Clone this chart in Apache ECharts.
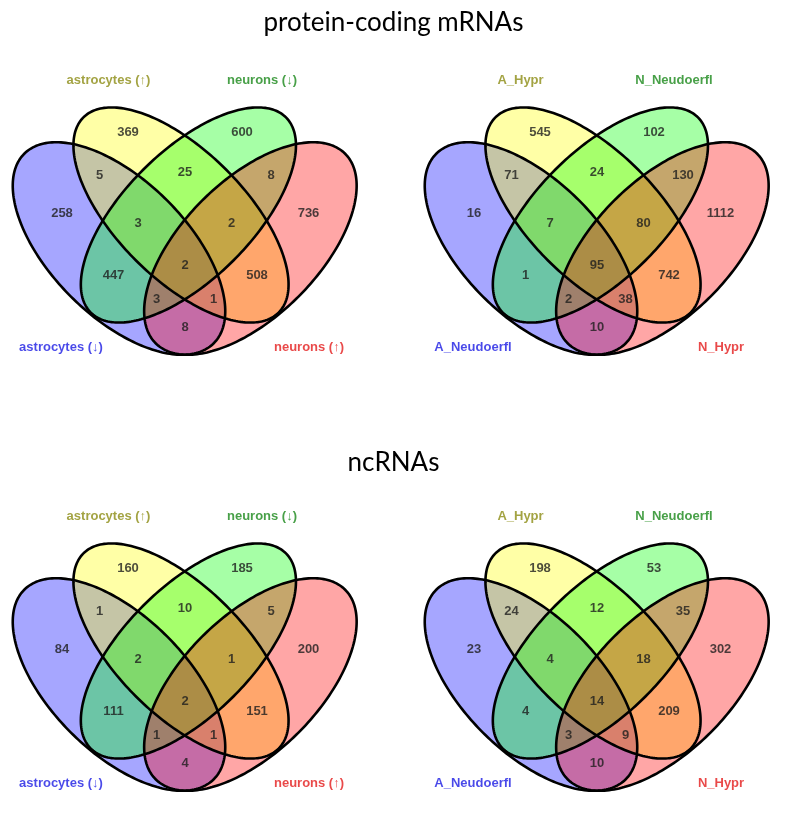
<!DOCTYPE html>
<html><head><meta charset="utf-8">
<script src="https://cdn.jsdelivr.net/npm/echarts@6/dist/echarts.min.js"></script>
<style>html,body{margin:0;padding:0;background:#fff}#c{width:787px;height:814px}</style>
</head><body><div id="c"></div>
<script>
// ---------- data ----------
const sectionTitles = ['protein-coding mRNAs', 'ncRNAs'];
// region keys: B = set 1 (left), Y = set 2, G = set 3, R = set 4 (right)
const regionKeys = ['Y','G','BY','YG','GR','B','BYG','YGR','R','BYGR','BG','YR','BGR','BYR','BR'];
const setNamesCondition = ['astrocytes (↓)', 'astrocytes (↑)', 'neurons (↓)', 'neurons (↑)'];
const setNamesSample = ['A_Neudoerfl', 'A_Hypr', 'N_Neudoerfl', 'N_Hypr'];
const mrnaCondition = [369, 600, 5, 25, 8, 258, 3, 2, 736, 2, 447, 508, 3, 1, 8];
const mrnaSample    = [545, 102, 71, 24, 130, 16, 7, 80, 1112, 95, 1, 742, 2, 38, 10];
const ncrnaCondition = [160, 185, 1, 10, 5, 84, 2, 1, 200, 2, 111, 151, 1, 1, 4];
const ncrnaSample    = [198, 53, 24, 12, 35, 23, 4, 18, 302, 14, 4, 209, 3, 9, 10];

// ---------- layout / style ----------
const PANELS = [
  {left: 0,   top: 0,   names: setNamesCondition, counts: mrnaCondition},
  {left: 412, top: 0,   names: setNamesSample,    counts: mrnaSample},
  {left: 0,   top: 436, names: setNamesCondition, counts: ncrnaCondition},
  {left: 412, top: 436, names: setNamesSample,    counts: ncrnaSample}
];
const FRAME_W = 375, FRAME_H = 375;
const ELLIPSES = [ // B, Y, G, R  (local frame, y downward)
  {cx: 119.0, cy: 248.5, a: 134, b: 68, dir: 1},
  {cx: 181.0, cy: 215.0, a: 138, b: 64, dir: 1},
  {cx: 188.4, cy: 215.0, a: 138, b: 64, dir: -1},
  {cx: 250.4, cy: 248.5, a: 134, b: 68, dir: -1}
];
const FILLS = ['rgba(0,0,255,0.35)', 'rgba(255,255,0,0.35)', 'rgba(0,255,0,0.35)', 'rgba(255,0,0,0.35)'];
const REGION_POS = {
  Y: [128, 132], G: [242, 132],
  BY: [99.5, 175], YG: [185, 172], GR: [271, 175],
  B: [62, 213.5], BYG: [138, 223], YGR: [231.5, 223], R: [308.5, 213.5],
  BYGR: [185, 265], BG: [113.5, 275.5], YR: [257, 275.5],
  BGR: [156.5, 299.5], BYR: [213.5, 299.5], BR: [185, 327]
};
const SET_LABEL_POS = [[61, 347], [108.5, 80], [262, 80], [309, 347]];
const SET_LABEL_COLORS = ['#1c1ce4', '#8c8c14', '#1a881a', '#e41c1c'];

function ellipsePoints(e, api) {
  const s = Math.SQRT1_2;
  const dx = e.dir * s, dy = s, nx = -dy, ny = dx;
  const pts = [];
  const N = 240;
  for (let i = 0; i < N; i++) {
    const t = i / N * Math.PI * 2;
    const u = e.a * Math.cos(t), v = e.b * Math.sin(t);
    pts.push(api.coord([e.cx + u * dx + v * nx, e.cy + u * dy + v * ny]));
  }
  return pts;
}

const grid = [], xAxis = [], yAxis = [], series = [];
PANELS.forEach((p, k) => {
  grid.push({left: p.left, top: p.top, width: FRAME_W, height: FRAME_H});
  xAxis.push({gridIndex: k, type: 'value', min: 0, max: FRAME_W, show: false});
  yAxis.push({gridIndex: k, type: 'value', min: 0, max: FRAME_H, inverse: true, show: false});
  const ellData = ELLIPSES.map((e, i) => [e.cx, e.cy, i]);
  series.push({
    type: 'custom', xAxisIndex: k, yAxisIndex: k, z: 1, silent: true,
    data: ellData,
    renderItem: (params, api) => ({
      type: 'polygon',
      shape: {points: ellipsePoints(ELLIPSES[params.dataIndex], api)},
      style: {fill: FILLS[params.dataIndex], stroke: null}
    })
  });
  series.push({
    type: 'custom', xAxisIndex: k, yAxisIndex: k, z: 2, silent: true,
    data: ellData,
    renderItem: (params, api) => ({
      type: 'polygon',
      shape: {points: ellipsePoints(ELLIPSES[params.dataIndex], api)},
      style: {fill: null, stroke: '#000', lineWidth: 2.6}
    })
  });
  series.push({
    type: 'scatter', xAxisIndex: k, yAxisIndex: k, z: 3, silent: true,
    symbolSize: 1, itemStyle: {color: 'rgba(0,0,0,0)'},
    data: regionKeys.map((key, i) => [REGION_POS[key][0], REGION_POS[key][1], p.counts[i]]),
    label: {
      show: true, position: 'inside', formatter: q => String(q.value[2]),
      fontFamily: 'Liberation Sans', fontWeight: 'bold', fontSize: 13, color: '#1e1e1e'
    }
  });
  series.push({
    type: 'scatter', xAxisIndex: k, yAxisIndex: k, z: 3, silent: true,
    symbolSize: 1, itemStyle: {color: 'rgba(0,0,0,0)'},
    data: p.names.map((n, i) => ({
      value: [SET_LABEL_POS[i][0], SET_LABEL_POS[i][1]], name: n,
      label: {color: SET_LABEL_COLORS[i]}
    })),
    label: {
      show: true, position: 'inside', formatter: q => q.name,
      fontFamily: 'Liberation Sans', fontWeight: 'bold', fontSize: 13
    }
  });
});

const chart = echarts.init(document.getElementById('c'), null, {renderer: 'canvas'});
chart.setOption({
  animation: false,
  backgroundColor: '#fff',
  title: [
    {text: sectionTitles[0], left: 'center', top: 5,
     textStyle: {fontFamily: 'Lato', fontSize: 26, fontWeight: 'normal', color: '#000'}},
    {text: sectionTitles[1], left: 'center', top: 445,
     textStyle: {fontFamily: 'Lato', fontSize: 26, fontWeight: 'normal', color: '#000'}}
  ],
  grid, xAxis, yAxis, series
});
</script></body></html>
